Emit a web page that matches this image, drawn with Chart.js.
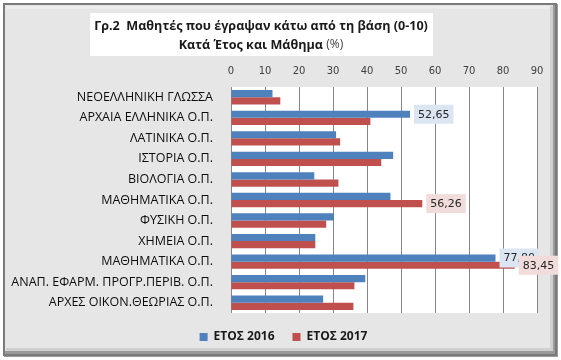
<!DOCTYPE html>
<html>
<head>
<meta charset="utf-8">
<script src="https://cdn.jsdelivr.net/npm/chart.js@4.4.1/dist/chart.umd.min.js"></script>
<style>
  html, body { margin: 0; padding: 0; background: #fff; }
  #wrap { width: 561px; height: 360px; position: relative; }
</style>
</head>
<body>
<div id="wrap"><canvas id="chart" width="561" height="360"></canvas></div>
<script>
// Μαθητές που έγραψαν κάτω από τη βάση (0-10), % ανά έτος και μάθημα
const categories = [
    "ΝΕΟΕΛΛΗΝΙΚΗ ΓΛΩΣΣΑ",
    "ΑΡΧΑΙΑ ΕΛΛΗΝΙΚΑ Ο.Π.",
    "ΛΑΤΙΝΙΚΑ Ο.Π.",
    "ΙΣΤΟΡΙΑ Ο.Π.",
    "ΒΙΟΛΟΓΙΑ Ο.Π.",
    "ΜΑΘΗΜΑΤΙΚΑ Ο.Π.",
    "ΦΥΣΙΚΗ Ο.Π.",
    "ΧΗΜΕΙΑ Ο.Π.",
    "ΜΑΘΗΜΑΤΙΚΑ Ο.Π.",
    "ΑΝΑΠ. ΕΦΑΡΜ. ΠΡΟΓΡ.ΠΕΡΙΒ. Ο.Π.",
    "ΑΡΧΕΣ ΟΙΚΟΝ.ΘΕΩΡΙΑΣ Ο.Π."
];
const etos2016 = [12.2, 52.65, 30.9, 47.7, 24.5, 46.9, 30.3, 24.8, 77.8, 39.5, 27.1];
const etos2017 = [14.5, 41.0, 32.1, 44.2, 31.6, 56.26, 28.0, 24.8, 83.45, 36.3, 36.0];
// only these bars carry a value label
const labeled2016 = [1, 8];
const labeled2017 = [5, 8];
const xTicks = [0, 10, 20, 30, 40, 50, 60, 70, 80, 90];

const BLUE = "#4f81bd";
const RED = "#c0504d";

/**
 * Πλαίσιο, φόντο και τίτλος του γραφήματος
 */
const framePlugin = {
    id: "frame",
    afterLayout(chart) {
        // το υπόμνημα είναι λίγο δεξιότερα από το κέντρο
        if (chart.legend) {
            chart.legend.left += 11;
            chart.legend.right += 11;
        }
    },
    beforeDraw(chart) {
        const { ctx, chartArea } = chart;
        ctx.save();
        ctx.fillStyle = "#ffffff";
        ctx.fillRect(0, 0, 561, 360);
        ctx.fillStyle = "#e6e6e6";
        ctx.fillRect(4, 4, 551, 349);
        // σκιά δεξιά / κάτω
        ctx.fillStyle = "#9a9a9a";
        ctx.fillRect(553, 4, 5, 353);
        ctx.fillRect(4, 351, 554, 6);
        ctx.fillStyle = "#d0d0d0";
        ctx.fillRect(550, 6, 3, 345);
        ctx.fillRect(6, 348, 547, 3);
        ctx.strokeStyle = "#7a7a7a";
        ctx.lineWidth = 2;
        ctx.strokeRect(4, 4, 552, 351);
        ctx.fillStyle = "#ececec";
        ctx.fillRect(6, 6, 544, 3);

        // λευκό φόντο περιοχής σχεδίασης
        ctx.fillStyle = "#ffffff";
        ctx.fillRect(chartArea.left, chartArea.top, chartArea.right - chartArea.left, chartArea.bottom - chartArea.top);

        // λευκό πλαίσιο τίτλου
        ctx.fillRect(90, 13, 343, 43);

        // τίτλος
        ctx.fillStyle = "#1a1a1a";
        ctx.textBaseline = "middle";
        ctx.textAlign = "center";
        ctx.font = "bold 12.6px 'Open Sans'";
        ctx.fillText("Γρ.2  Μαθητές που έγραψαν κάτω από τη βάση (0-10)", 261, 26);
        const bold = "Κατά Έτος και Μάθημα ";
        const light = "(%)";
        const wB = ctx.measureText(bold).width;
        ctx.font = "12px 'Open Sans'";
        const wL = ctx.measureText(light).width;
        const x0 = 261 - (wB + wL) / 2;
        ctx.textAlign = "left";
        ctx.font = "bold 12.6px 'Open Sans'";
        ctx.fillText(bold, x0, 45);
        ctx.font = "12px 'Open Sans'";
        ctx.fillStyle = "#404040";
        ctx.fillText(light, x0 + wB, 45);
        ctx.restore();
    }
};

/**
 * Ετικέτες τιμών (μόνο για επιλεγμένες ράβδους)
 */
const valueLabelPlugin = {
    id: "valueLabels",
    afterDatasetsDraw(chart) {
        const ctx = chart.ctx;
        const sets = [
            { idx: 0, list: labeled2016, bg: "#dce6f2" },
            { idx: 1, list: labeled2017, bg: "#f2dcdb" }
        ];
        ctx.save();
        ctx.font = "11px 'DejaVu Sans'";
        ctx.textBaseline = "middle";
        sets.forEach(s => {
            const meta = chart.getDatasetMeta(s.idx);
            const data = chart.data.datasets[s.idx].data;
            s.list.forEach(i => {
                const bar = meta.data[i];
                const txt = data[i].toFixed(2).replace(".", ",");
                const w = ctx.measureText(txt).width;
                const bx = bar.x + 4;
                const by = bar.y - 9.5;
                ctx.fillStyle = s.bg;
                ctx.fillRect(bx, by, w + 8, 19);
                ctx.fillStyle = "#262626";
                ctx.fillText(txt, bx + 4, bar.y + 0.5);
            });
        });
        ctx.restore();
    }
};

const ctx = document.getElementById("chart").getContext("2d");
new Chart(ctx, {
    type: "bar",
    data: {
        labels: categories,
        datasets: [
            {
                label: "ΕΤΟΣ 2016",
                data: etos2016,
                backgroundColor: BLUE,
                borderWidth: 0,
                barPercentage: 1.0,
                categoryPercentage: 0.7
            },
            {
                label: "ΕΤΟΣ 2017",
                data: etos2017,
                backgroundColor: RED,
                borderWidth: 0,
                barPercentage: 1.0,
                categoryPercentage: 0.7
            }
        ]
    },
    options: {
        indexAxis: "y",
        responsive: false,
        animation: false,
        layout: {
            padding: { left: 8, right: 24, top: 62, bottom: 7 }
        },
        scales: {
            x: {
                position: "top",
                min: 0,
                max: 90,
                afterBuildTicks(scale) {
                    scale.ticks = xTicks.map(v => ({ value: v }));
                },
                afterFit(scale) {
                    scale.height = 25;
                },
                grid: {
                    color: "#868686",
                    lineWidth: 1,
                    drawTicks: false
                },
                border: { display: false },
                ticks: {
                    padding: 10,
                    color: "#404040",
                    font: { family: "'DejaVu Sans'", size: 10 }
                }
            },
            y: {
                afterFit(scale) {
                    scale.width = 223;
                },
                grid: { display: false },
                border: { display: false },
                ticks: {
                    padding: 10,
                    color: "#0d0d0d",
                    font: { family: "'Open Sans'", size: 12.5 }
                }
            }
        },
        plugins: {
            legend: {
                position: "bottom",
                labels: {
                    boxWidth: 8,
                    boxHeight: 8,
                    padding: 18,
                    color: "#1a1a1a",
                    font: { family: "'Open Sans'", size: 12, weight: "bold" }
                }
            },
            tooltip: { enabled: false },
            title: { display: false }
        }
    },
    plugins: [framePlugin, valueLabelPlugin]
});
</script>
</body>
</html>
